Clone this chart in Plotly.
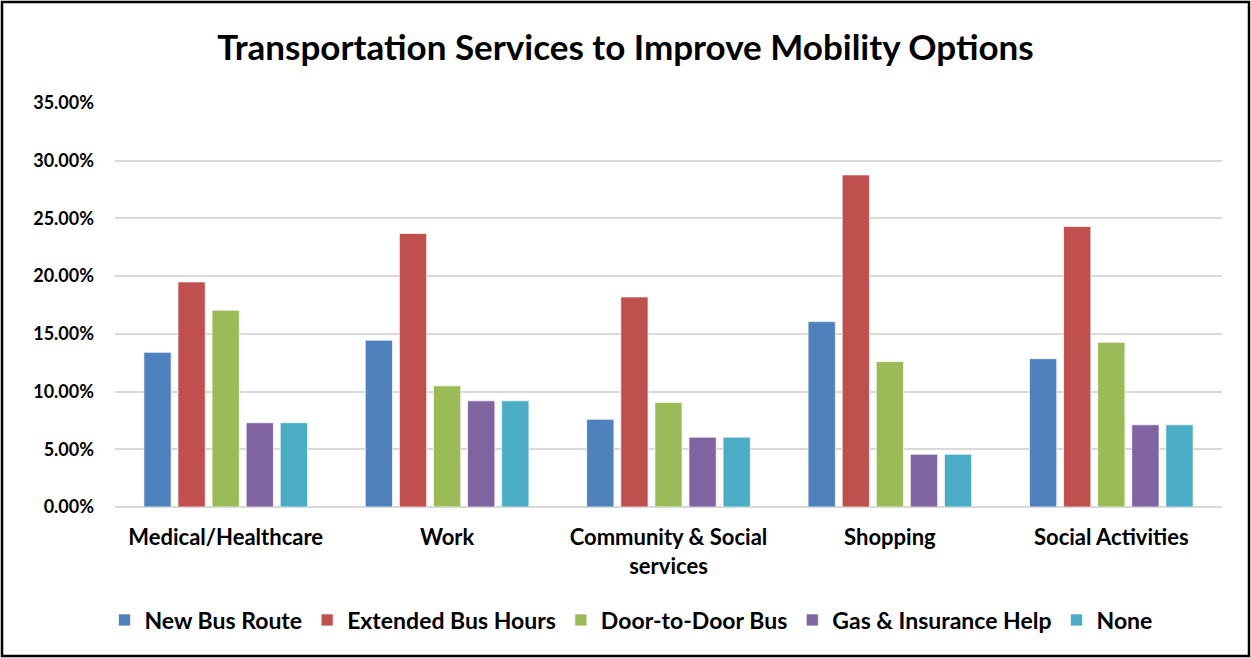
import plotly.graph_objects as go

categories = ["Medical/Healthcare", "Work", "Community & Social<br>services", "Shopping", "Social Activities"]

new_bus_route = [0.134, 0.1445, 0.076, 0.1606, 0.1285]
extended_bus_hours = [0.195, 0.237, 0.182, 0.2877, 0.243]
door_to_door_bus = [0.1705, 0.105, 0.0906, 0.126, 0.1427]
gas_insurance_help = [0.073, 0.092, 0.0605, 0.0457, 0.0712]
none_option = [0.073, 0.092, 0.0605, 0.0457, 0.0712]

series = [
    ("New Bus Route", new_bus_route, "#4F81BD"),
    ("Extended Bus Hours", extended_bus_hours, "#C0504D"),
    ("Door-to-Door Bus", door_to_door_bus, "#9BBB59"),
    ("Gas & Insurance Help", gas_insurance_help, "#8064A2"),
    ("None", none_option, "#4BACC6"),
]

FONT = "Lato, Calibri, Arial, sans-serif"

fig = go.Figure()
for name, vals, color in series:
    fig.add_trace(go.Bar(
        x=categories, y=vals, name=name,
        marker=dict(color=color, line=dict(color="rgba(255,255,255,0.7)", width=1)),
    ))

W, H = 1251, 658
ml, mr, mt, mb = 115, 29, 103, 151
pw, ph = W - ml - mr, H - mt - mb

fig.update_layout(
    width=W, height=H,
    margin=dict(l=ml, r=mr, t=mt, b=mb),
    paper_bgcolor="white", plot_bgcolor="white",
    barmode="group", bargap=0.23, bargroupgap=0.2,
    title=dict(text="<b>Transportation Services to Improve Mobility Options</b>",
               x=0.5, xanchor="center", y=1 - 48 / H, yanchor="middle",
               font=dict(family=FONT, size=35, color="black")),
    font=dict(family=FONT, color="black"),
    legend=dict(orientation="h", x=(631 - ml) / pw, xanchor="center", y=-(620 - 507) / ph, yanchor="middle",
                font=dict(family=FONT, size=23, color="black", weight="bold"),
                itemwidth=30, traceorder="normal"),
    xaxis=dict(showgrid=False, showline=False, ticks="", ticklabelstandoff=15,
               tickfont=dict(family=FONT, size=22, color="black", weight="bold")),
    yaxis=dict(range=[0, 0.35], dtick=0.05, tickformat=".2%",
               gridcolor="#D9D9D9", gridwidth=2, zeroline=True, zerolinecolor="#D9D9D9", zerolinewidth=2,
               showline=False, ticks="", ticklabelstandoff=20,
               tickfont=dict(family=FONT, size=18, color="black", weight="bold")),
    shapes=[dict(type="rect", xref="paper", yref="paper",
                 x0=-(ml - 2) / pw, x1=1 + (mr - 2) / pw,
                 y0=-(mb - 2) / ph, y1=1 + (mt - 2) / ph,
                 line=dict(color="black", width=2.5), fillcolor="rgba(0,0,0,0)", layer="above")],
)

fig.write_html("out.html", config={"displayModeBar": False},
               post_script="document.body.style.margin='0';")
